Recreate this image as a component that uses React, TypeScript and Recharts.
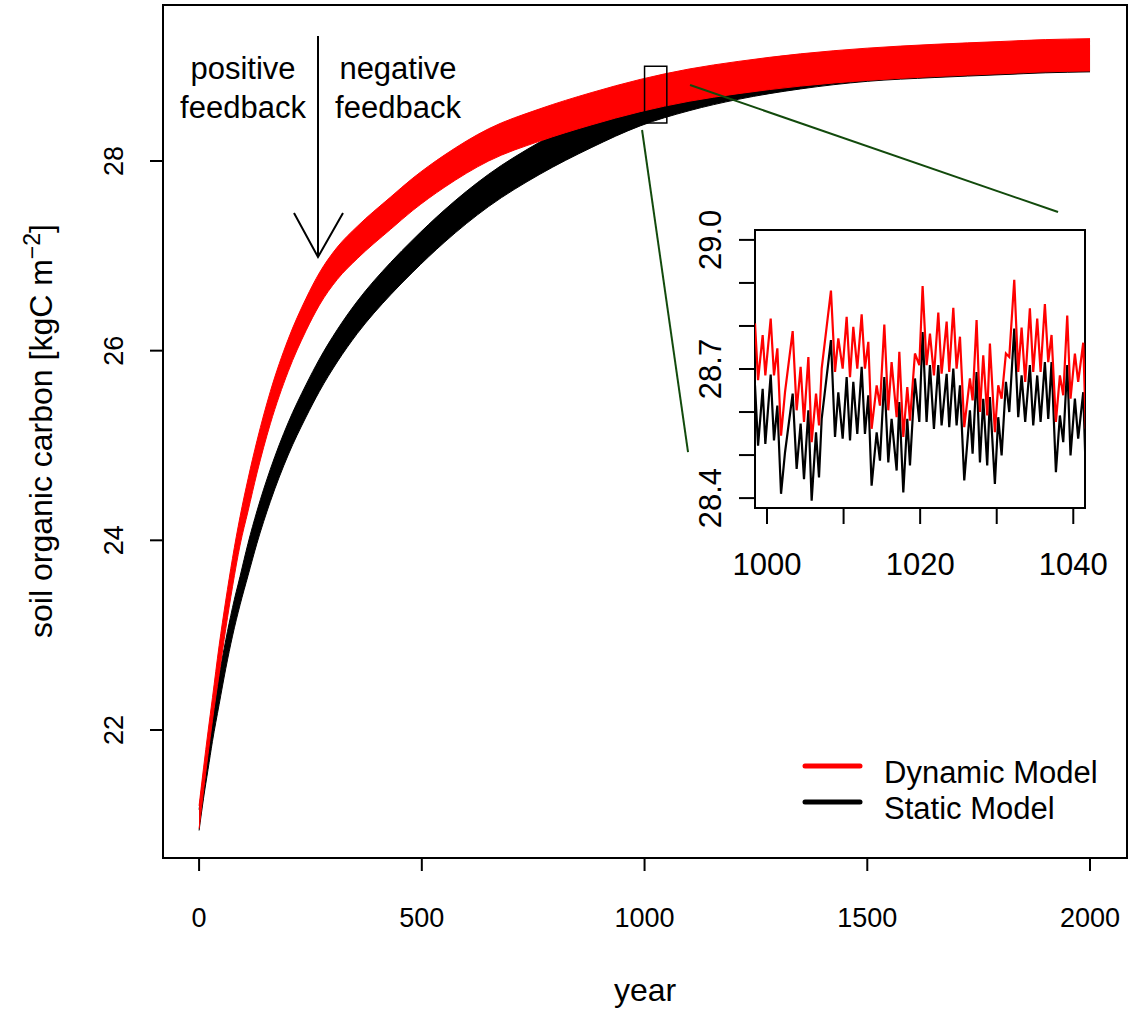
import React from 'react';
import { ComposedChart, LineChart, Line, Area, XAxis, YAxis, ReferenceArea, ReferenceLine } from 'recharts';

const FONT = '"Liberation Sans", Arial, Helvetica, sans-serif';

// ---------- main panel (year 0..2000) : envelopes of the oscillating series ----------
const MAIN_YEARS = [0, 10, 20, 30, 45, 60, 75, 92, 110, 130, 160, 200, 240, 270, 310, 355, 430, 480, 550, 650, 765, 880, 990, 1100, 1210, 1350, 1500, 1650, 1800, 1900, 2000];
const RED_LOW = [20.96, 21.36, 21.74, 22.1, 22.59, 23.07, 23.51, 23.95, 24.31, 24.71, 25.23, 25.78, 26.21, 26.48, 26.75, 26.97, 27.28, 27.48, 27.72, 28.0, 28.21, 28.38, 28.52, 28.63, 28.71, 28.79, 28.85, 28.89, 28.92, 28.94, 28.95];
const RED_HIGH = [21.2, 21.6, 21.98, 22.34, 22.89, 23.37, 23.81, 24.25, 24.65, 25.05, 25.57, 26.12, 26.55, 26.82, 27.09, 27.31, 27.62, 27.82, 28.06, 28.34, 28.55, 28.72, 28.86, 28.97, 29.05, 29.13, 29.19, 29.23, 29.26, 29.28, 29.29];
const BLACK_LOW = [20.94, 21.28, 21.58, 21.88, 22.27, 22.65, 22.99, 23.32, 23.63, 23.97, 24.41, 24.9, 25.3, 25.57, 25.88, 26.18, 26.59, 26.83, 27.14, 27.52, 27.86, 28.14, 28.37, 28.53, 28.65, 28.76, 28.84, 28.88, 28.91, 28.93, 28.94];
const BLACK_HIGH = [21.16, 21.52, 21.82, 22.12, 22.57, 22.95, 23.29, 23.62, 23.97, 24.31, 24.75, 25.24, 25.64, 25.91, 26.22, 26.52, 26.93, 27.17, 27.48, 27.86, 28.2, 28.48, 28.71, 28.85, 28.95, 29.06, 29.13, 29.18, 29.22, 29.25, 29.28];

const MAIN_X_TICKS = [0, 500, 1000, 1500, 2000];
const MAIN_Y_TICKS = [22, 24, 26, 28];
const MAIN_X_DOMAIN = [-81, 2083];
const MAIN_Y_DOMAIN = [20.65, 29.645];

// ---------- inset (years ~998..1042) ----------
const INSET_YEARS = [998.43, 998.83, 999.43, 999.78, 1000.48, 1000.91, 1001.35, 1001.83, 1002.35, 1003.35, 1003.87, 1004.39, 1004.83, 1005.40, 1005.83, 1006.40, 1006.79, 1007.14, 1008.35, 1008.88, 1009.31, 1009.88, 1010.40, 1010.84, 1011.27, 1011.79, 1012.36, 1012.79, 1013.23, 1013.66, 1014.32, 1014.75, 1015.32, 1015.84, 1016.27, 1016.93, 1017.28, 1017.80, 1018.32, 1018.67, 1019.32, 1019.89, 1020.32, 1020.84, 1021.28, 1021.80, 1022.37, 1022.80, 1023.46, 1023.80, 1024.33, 1024.76, 1025.20, 1025.76, 1026.50, 1026.85, 1027.37, 1027.81, 1028.24, 1028.76, 1029.11, 1029.76, 1030.20, 1030.64, 1031.20, 1031.64, 1032.29, 1032.81, 1033.25, 1033.72, 1034.33, 1034.77, 1035.29, 1035.73, 1036.29, 1036.73, 1037.16, 1037.73, 1038.25, 1038.69, 1039.21, 1039.64, 1040.21, 1040.64, 1041.30, 1041.64];
const INSET_RED = [28.806, 28.674, 28.779, 28.685, 28.817, 28.685, 28.748, 28.545, 28.646, 28.788, 28.604, 28.705, 28.577, 28.728, 28.530, 28.643, 28.569, 28.701, 28.882, 28.693, 28.771, 28.701, 28.821, 28.681, 28.798, 28.701, 28.827, 28.701, 28.763, 28.561, 28.662, 28.615, 28.803, 28.604, 28.716, 28.588, 28.740, 28.542, 28.658, 28.580, 28.736, 28.709, 28.893, 28.709, 28.782, 28.685, 28.831, 28.689, 28.810, 28.693, 28.842, 28.701, 28.775, 28.565, 28.678, 28.627, 28.814, 28.600, 28.732, 28.592, 28.759, 28.553, 28.662, 28.631, 28.736, 28.728, 28.907, 28.693, 28.796, 28.670, 28.841, 28.693, 28.817, 28.693, 28.851, 28.716, 28.779, 28.577, 28.685, 28.639, 28.824, 28.631, 28.736, 28.670, 28.761, 28.561];
const INSET_BLACK = [28.662, 28.522, 28.654, 28.526, 28.687, 28.534, 28.615, 28.410, 28.506, 28.643, 28.468, 28.573, 28.444, 28.604, 28.394, 28.553, 28.448, 28.584, 28.767, 28.542, 28.646, 28.538, 28.681, 28.534, 28.670, 28.549, 28.705, 28.549, 28.639, 28.429, 28.553, 28.487, 28.681, 28.483, 28.584, 28.464, 28.623, 28.413, 28.584, 28.476, 28.678, 28.577, 28.786, 28.577, 28.709, 28.561, 28.709, 28.569, 28.689, 28.565, 28.701, 28.569, 28.662, 28.441, 28.604, 28.503, 28.693, 28.483, 28.631, 28.476, 28.635, 28.433, 28.588, 28.499, 28.670, 28.600, 28.794, 28.588, 28.685, 28.577, 28.709, 28.569, 28.685, 28.577, 28.716, 28.584, 28.716, 28.460, 28.592, 28.530, 28.709, 28.499, 28.631, 28.538, 28.646, 28.452];

const INSET_X_TICKS = [1000, 1010, 1020, 1030, 1040];
const INSET_X_LABELS = [1000, 1020, 1040];
const INSET_Y_TICKS = [28.4, 28.5, 28.6, 28.7, 28.8, 28.9, 29.0];
const INSET_Y_LABELS = [28.4, 28.7, 29.0];
const INSET_X_DOMAIN = [998.43, 1041.53];
const INSET_Y_DOMAIN = [28.377, 29.023];

// zoom window and connector lines (data coordinates)
const ZOOM_BOX = { x1: 1000, x2: 1050, y1: 28.4, y2: 29.0 };
const CONNECTORS = [
  [{ x: 994.4, y: 28.327 }, { x: 1097.6, y: 24.931 }],
  [{ x: 1102.1, y: 28.801 }, { x: 1928.2, y: 27.462 }],
];

const SERIES = [
  { key: 'red', name: 'Dynamic Model', color: '#ff0000' },
  { key: 'black', name: 'Static Model', color: '#000000' },
];

const mainData = MAIN_YEARS.map((year, i) => ({
  year,
  red: [RED_LOW[i], RED_HIGH[i]],
  black: [BLACK_LOW[i], BLACK_HIGH[i]],
}));

const insetData = INSET_YEARS.map((year, i) => ({
  year,
  red: INSET_RED[i],
  black: INSET_BLACK[i],
}));

const MainXTick = (p: any) => (
  <text x={p.x} y={p.y + 56} textAnchor="middle" fontSize={27} fontFamily={FONT} fill="#000">
    {p.payload.value}
  </text>
);

const MainYTick = (p: any) => (
  <text
    x={p.x - 27}
    y={p.y}
    transform={`rotate(-90, ${p.x - 27}, ${p.y})`}
    textAnchor="middle"
    fontSize={27}
    fontFamily={FONT}
    fill="#000"
  >
    {p.payload.value}
  </text>
);

const InsetXTick = (p: any) =>
  INSET_X_LABELS.includes(p.payload.value) ? (
    <text x={p.x} y={p.y + 51} textAnchor="middle" fontSize={31} fontFamily={FONT} fill="#000">
      {p.payload.value}
    </text>
  ) : (
    <g />
  );

const InsetYTick = (p: any) =>
  INSET_Y_LABELS.includes(p.payload.value) ? (
    <text
      x={p.x - 18}
      y={p.y}
      transform={`rotate(-90, ${p.x - 18}, ${p.y})`}
      textAnchor="middle"
      fontSize={31}
      fontFamily={FONT}
      fill="#000"
    >
      {Number(p.payload.value).toFixed(1)}
    </text>
  ) : (
    <g />
  );

const tickLineStyle = { stroke: '#000', strokeWidth: 2 };

export default function App() {
  return (
    <div style={{ position: 'absolute', left: 0, top: 0, width: 1133, height: 1012, background: '#fff', fontFamily: FONT }}>
      <div style={{ position: 'absolute', left: 0, top: 0 }}>
        <ComposedChart width={1133} height={1012} data={mainData} margin={{ top: 5, right: 6, bottom: 94, left: 103 }}>
          <XAxis
            dataKey="year"
            type="number"
            domain={MAIN_X_DOMAIN}
            allowDataOverflow
            ticks={MAIN_X_TICKS}
            interval={0}
            height={60}
            tickSize={13}
            tickMargin={0}
            tickLine={tickLineStyle}
            axisLine={false}
            tick={(p: any) => <MainXTick {...p} />}
          />
          <YAxis
            type="number"
            domain={MAIN_Y_DOMAIN}
            allowDataOverflow
            ticks={MAIN_Y_TICKS}
            interval={0}
            width={60}
            tickSize={13}
            tickMargin={0}
            tickLine={tickLineStyle}
            axisLine={false}
            tick={(p: any) => <MainYTick {...p} />}
          />
          <Area
            dataKey="black"
            type="monotone"
            stroke="#000"
            strokeWidth={1}
            fill="#000"
            fillOpacity={1}
            isAnimationActive={false}
            dot={false}
            activeDot={false}
          />
          <Area
            dataKey="red"
            type="monotone"
            stroke="#ff0000"
            strokeWidth={1}
            fill="#ff0000"
            fillOpacity={1}
            isAnimationActive={false}
            dot={false}
            activeDot={false}
          />
          <ReferenceArea
            x1={ZOOM_BOX.x1}
            x2={ZOOM_BOX.x2}
            y1={ZOOM_BOX.y1}
            y2={ZOOM_BOX.y2}
            fill="none"
            fillOpacity={0}
            stroke="#000"
            strokeWidth={1.5}
          />
          {CONNECTORS.map((seg, i) => (
            <ReferenceLine key={i} segment={seg} stroke="#124a0c" strokeWidth={2} />
          ))}
          <ReferenceArea
            x1={MAIN_X_DOMAIN[0]}
            x2={MAIN_X_DOMAIN[1]}
            y1={MAIN_Y_DOMAIN[0]}
            y2={MAIN_Y_DOMAIN[1]}
            fill="none"
            fillOpacity={0}
            stroke="#000"
            strokeWidth={2}
          />
        </ComposedChart>
      </div>

      {/* annotations, axis titles and legend */}
      <svg width={1133} height={1012} style={{ position: 'absolute', left: 0, top: 0, pointerEvents: 'none' }}>
        <g fontFamily={FONT} fontSize={31} fill="#000">
          <text x={243} y={79} textAnchor="middle">positive</text>
          <text x={243} y={118} textAnchor="middle">feedback</text>
          <text x={398} y={79} textAnchor="middle">negative</text>
          <text x={398} y={118} textAnchor="middle">feedback</text>
          <text x={645} y={1001} textAnchor="middle" fontSize={32}>year</text>
          <text x={52} y={431} transform="rotate(-90, 52, 431)" textAnchor="middle" fontSize={32}>
            soil organic carbon [kgC m
            <tspan dy={-12} fontSize={23}>−2</tspan>
            <tspan dy={12}>]</tspan>
          </text>
        </g>
        <line x1={318} y1={36} x2={318} y2={257} stroke="#000" strokeWidth={2} />
        <polyline points="294,213 318,257 343,213" fill="none" stroke="#000" strokeWidth={2} />
        {SERIES.map((s, i) => (
          <g key={s.key}>
            <line x1={805} y1={766 + i * 36} x2={860} y2={766 + i * 36} stroke={s.color} strokeWidth={5} strokeLinecap="round" />
            <text x={884} y={783 + i * 36} fontFamily={FONT} fontSize={31} fill="#000">{s.name}</text>
          </g>
        ))}
      </svg>

      {/* inset */}
      <div style={{ position: 'absolute', left: 630, top: 180 }}>
        <LineChart width={490} height={440} data={insetData} margin={{ top: 50, right: 35, bottom: 52, left: 75 }}>
          <XAxis
            dataKey="year"
            type="number"
            domain={INSET_X_DOMAIN}
            allowDataOverflow
            ticks={INSET_X_TICKS}
            interval={0}
            height={60}
            tickSize={16}
            tickMargin={0}
            tickLine={tickLineStyle}
            axisLine={false}
            tick={(p: any) => <InsetXTick {...p} />}
          />
          <YAxis
            type="number"
            domain={INSET_Y_DOMAIN}
            allowDataOverflow
            ticks={INSET_Y_TICKS}
            interval={0}
            width={50}
            tickSize={16}
            tickMargin={0}
            tickLine={tickLineStyle}
            axisLine={false}
            tick={(p: any) => <InsetYTick {...p} />}
          />
          <ReferenceArea
            x1={INSET_X_DOMAIN[0]}
            x2={INSET_X_DOMAIN[1]}
            y1={INSET_Y_DOMAIN[0]}
            y2={INSET_Y_DOMAIN[1]}
            fill="#fff"
            fillOpacity={1}
            stroke="none"
          />
          <Line dataKey="black" type="linear" stroke="#000" strokeWidth={2.2} dot={false} activeDot={false} isAnimationActive={false} />
          <Line dataKey="red" type="linear" stroke="#ff0000" strokeWidth={2.2} dot={false} activeDot={false} isAnimationActive={false} />
          <ReferenceArea
            x1={INSET_X_DOMAIN[0]}
            x2={INSET_X_DOMAIN[1]}
            y1={INSET_Y_DOMAIN[0]}
            y2={INSET_Y_DOMAIN[1]}
            fill="none"
            fillOpacity={0}
            stroke="#000"
            strokeWidth={2}
          />
        </LineChart>
      </div>
    </div>
  );
}
